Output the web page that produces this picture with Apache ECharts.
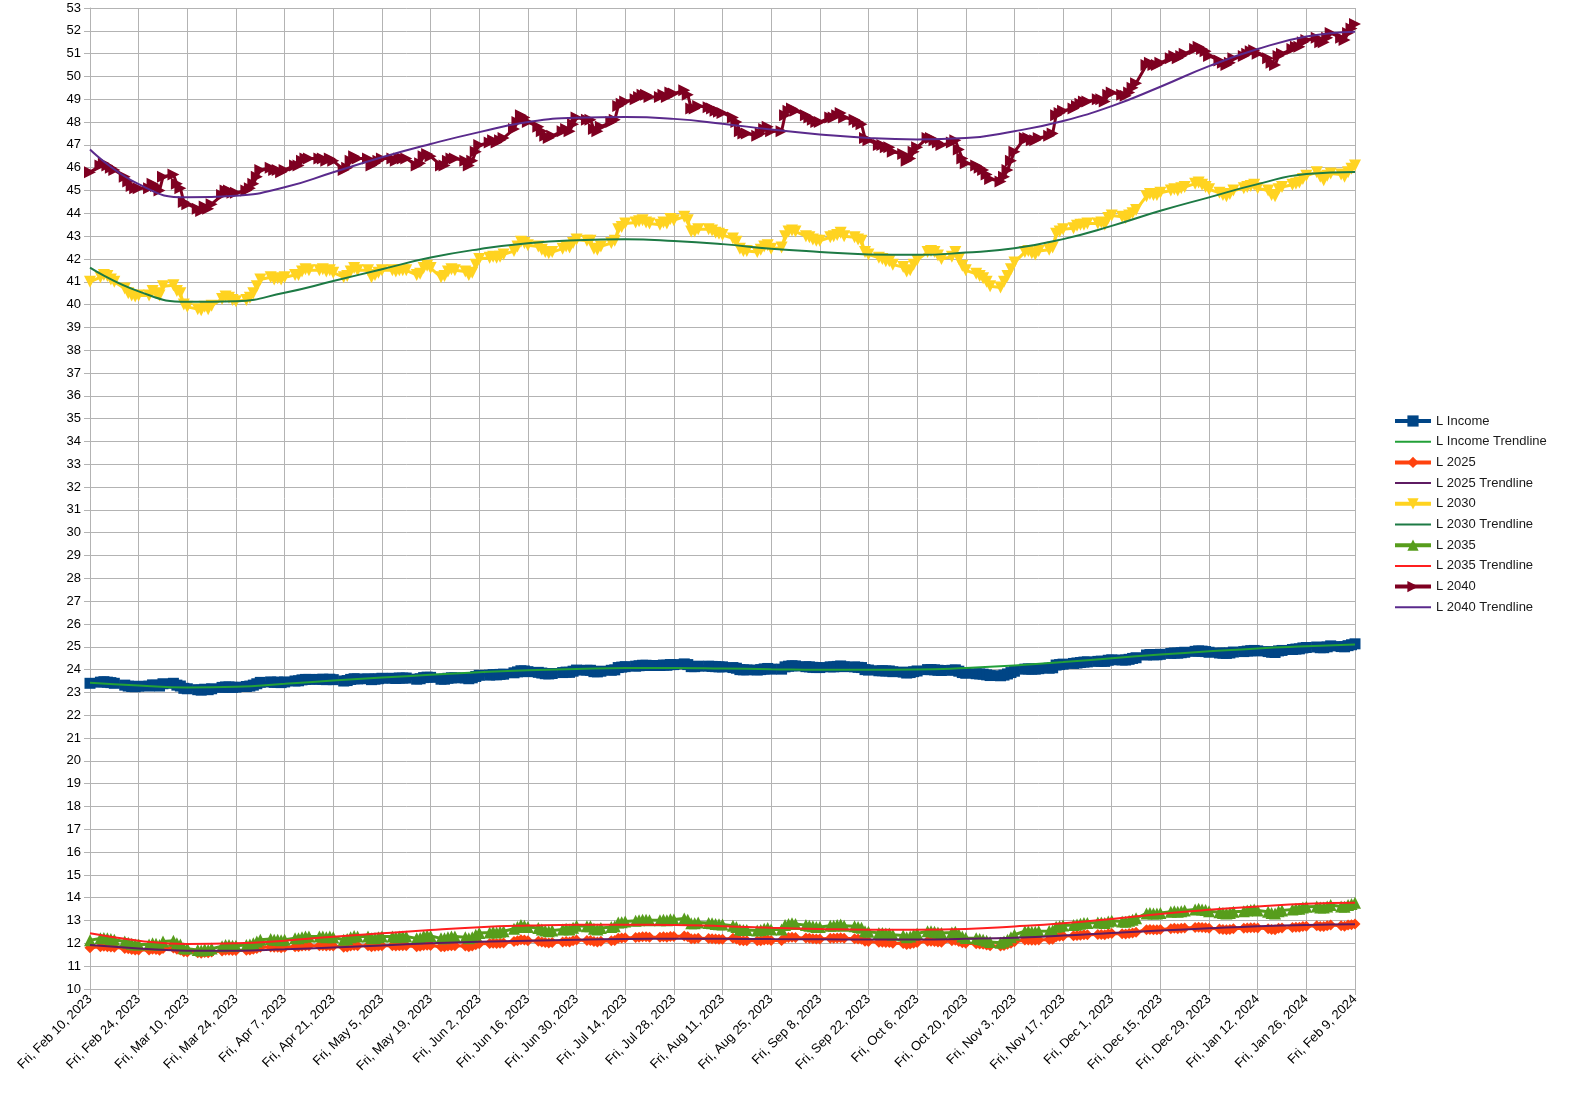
<!DOCTYPE html>
<html>
<head>
<meta charset="utf-8">
<title>L Funds</title>
<script src="https://cdn.jsdelivr.net/npm/echarts@6/dist/echarts.min.js"></script>
<style>
  html, body { margin: 0; padding: 0; background: #fff; }
  #chartMain { width: 1572px; height: 1093px; }
</style>
</head>
<body>
<div id="chartMain"></div>
<script>
// first day shown and how many calendar days the axis spans
var startDay = Date.UTC(2023, 1, 10);
var dayCount = 365;
var dayNames = ["Sun", "Mon", "Tue", "Wed", "Thu", "Fri", "Sat"];
var monthNames = ["Jan", "Feb", "Mar", "Apr", "May", "Jun", "Jul", "Aug", "Sep", "Oct", "Nov", "Dec"];

// daily prices, weekdays only (Fri Feb 10, then Mon..Fri rows)
var lIncome = [
  23.40,
  23.45, 23.47, 23.45, 23.43, 23.40,  23.32, 23.28, 23.26, 23.25, 23.27,
  23.28, 23.33, 23.31, 23.28, 23.38,  23.40, 23.32, 23.28, 23.18, 23.16,
  23.12, 23.10, 23.14, 23.12, 23.16,  23.22, 23.24, 23.24, 23.22, 23.23,
  23.26, 23.28, 23.32, 23.38, 23.44,  23.46, 23.44, 23.45, 23.43, 23.46,
  23.50, 23.51, 23.55, 23.57, 23.57,  23.57, 23.58, 23.56, 23.58, 23.56,
  23.50, 23.52, 23.57, 23.60, 23.59,  23.60, 23.56, 23.58, 23.60, 23.62,
  23.62, 23.61, 23.63, 23.63, 23.63,  23.58, 23.60, 23.65, 23.67, 23.66,
  23.58, 23.58, 23.62, 23.64, 23.64,  23.63, 23.60, 23.64, 23.70, 23.75,
  23.76, 23.78, 23.77, 23.79, 23.80,  23.86, 23.90, 23.95, 23.94, 23.91,
  23.88, 23.85, 23.82, 23.81, 23.83,  23.87, 23.89, 23.88, 23.93, 23.98,
  23.97, 23.97, 23.91, 23.90, 23.93,  23.97, 23.99, 24.09, 24.11, 24.13,
  24.15, 24.17, 24.19, 24.19, 24.18,  24.18, 24.20, 24.19, 24.22, 24.22,
  24.25, 24.22, 24.13, 24.13, 24.15,  24.15, 24.14, 24.13, 24.12, 24.12,
  24.09, 24.06, 24.00, 23.99, 23.99,  23.98, 24.00, 24.03, 24.05, 24.02,
  24.02, 24.12, 24.15, 24.17, 24.16,  24.13, 24.12, 24.10, 24.09, 24.09,
  24.12, 24.12, 24.14, 24.16, 24.13,  24.12, 24.10, 24.09, 24.00, 23.98,
  23.95, 23.95, 23.94, 23.94, 23.91,  23.89, 23.85, 23.87, 23.91, 23.94,
  24.00, 24.00, 23.99, 23.97, 23.96,  23.97, 23.99, 23.93, 23.87, 23.84,
  23.82, 23.81, 23.80, 23.77, 23.74,  23.73, 23.76, 23.81, 23.87, 23.93,
  24.02, 24.03, 24.02, 24.02, 24.04,  24.06, 24.08, 24.20, 24.22, 24.24,
  24.27, 24.29, 24.31, 24.33, 24.34,  24.36, 24.37, 24.36, 24.41, 24.43,
  24.42, 24.42, 24.45, 24.49, 24.52,  24.64, 24.66, 24.65, 24.65, 24.67,
  24.71, 24.73, 24.72, 24.74, 24.76,  24.80, 24.82, 24.81, 24.79, 24.76,
  24.73, 24.72, 24.71, 24.73, 24.77,  24.79, 24.81, 24.83, 24.84, 24.82,
  24.79, 24.76, 24.75, 24.82, 24.84,  24.88, 24.90, 24.91, 24.95, 24.97,
  24.99, 24.96, 24.96, 25.00, 25.04,  25.01, 25.00, 25.05, 25.09, 25.13
];

var l2025 = [
  11.81,
  11.85, 11.87, 11.85, 11.84, 11.83,  11.78, 11.76, 11.73, 11.71, 11.71,
  11.71, 11.74, 11.73, 11.70, 11.78,  11.80, 11.74, 11.71, 11.63, 11.62,
  11.59, 11.57, 11.60, 11.59, 11.62,  11.67, 11.70, 11.70, 11.69, 11.69,
  11.70, 11.71, 11.74, 11.78, 11.83,  11.84, 11.83, 11.83, 11.81, 11.83,
  11.85, 11.85, 11.88, 11.90, 11.90,  11.90, 11.90, 11.88, 11.90, 11.88,
  11.83, 11.84, 11.88, 11.91, 11.90,  11.90, 11.85, 11.87, 11.88, 11.90,
  11.90, 11.88, 11.90, 11.90, 11.90,  11.85, 11.87, 11.91, 11.92, 11.91,
  11.85, 11.85, 11.88, 11.90, 11.90,  11.88, 11.85, 11.88, 11.94, 11.98,
  11.99, 12.01, 11.99, 12.01, 12.02,  12.08, 12.12, 12.16, 12.15, 12.12,
  12.09, 12.06, 12.04, 12.02, 12.04,  12.06, 12.08, 12.06, 12.11, 12.15,
  12.13, 12.13, 12.08, 12.06, 12.09,  12.12, 12.13, 12.22, 12.23, 12.25,
  12.26, 12.27, 12.29, 12.29, 12.27,  12.27, 12.29, 12.27, 12.30, 12.30,
  12.32, 12.29, 12.20, 12.20, 12.22,  12.21, 12.20, 12.19, 12.18, 12.18,
  12.22, 12.19, 12.13, 12.12, 12.12,  12.11, 12.12, 12.15, 12.16, 12.13,
  12.13, 12.23, 12.26, 12.27, 12.26,  12.23, 12.22, 12.20, 12.19, 12.19,
  12.22, 12.22, 12.23, 12.25, 12.22,  12.20, 12.19, 12.18, 12.09, 12.08,
  12.05, 12.05, 12.04, 12.04, 12.01,  11.99, 11.95, 11.97, 12.01, 12.04,
  12.09, 12.09, 12.08, 12.06, 12.05,  12.12, 12.14, 12.08, 12.03, 12.00,
  11.98, 11.97, 11.96, 11.93, 11.90,  11.89, 11.91, 11.96, 12.01, 12.07,
  12.15, 12.15, 12.14, 12.14, 12.15,  12.17, 12.18, 12.29, 12.31, 12.32,
  12.33, 12.35, 12.36, 12.38, 12.38,  12.39, 12.39, 12.38, 12.42, 12.43,
  12.42, 12.41, 12.43, 12.46, 12.49,  12.60, 12.61, 12.60, 12.60, 12.61,
  12.64, 12.66, 12.64, 12.66, 12.67,  12.70, 12.71, 12.70, 12.68, 12.66,
  12.63, 12.61, 12.60, 12.61, 12.64,  12.66, 12.67, 12.68, 12.69, 12.67,
  12.64, 12.61, 12.60, 12.66, 12.67,  12.70, 12.71, 12.71, 12.74, 12.75,
  12.77, 12.74, 12.74, 12.77, 12.80,  12.77, 12.75, 12.80, 12.82, 12.85
];

var l2030 = [
  41.00,
  41.20, 41.30, 41.25, 41.10, 41.00,  40.70, 40.50, 40.40, 40.35, 40.40,
  40.40, 40.60, 40.50, 40.40, 40.80,  40.85, 40.60, 40.50, 40.00, 39.90,
  39.80, 39.75, 39.90, 39.80, 39.95,  40.25, 40.35, 40.30, 40.20, 40.15,
  40.20, 40.30, 40.50, 40.80, 41.10,  41.20, 41.10, 41.15, 41.10, 41.20,
  41.30, 41.30, 41.45, 41.55, 41.50,  41.50, 41.55, 41.45, 41.50, 41.40,
  41.20, 41.25, 41.45, 41.60, 41.50,  41.50, 41.20, 41.30, 41.40, 41.50,
  41.50, 41.45, 41.50, 41.50, 41.50,  41.30, 41.35, 41.60, 41.70, 41.60,
  41.20, 41.25, 41.45, 41.55, 41.50,  41.45, 41.30, 41.40, 41.75, 42.00,
  42.05, 42.10, 42.05, 42.10, 42.20,  42.35, 42.55, 42.75, 42.70, 42.60,
  42.55, 42.40, 42.30, 42.25, 42.30,  42.45, 42.55, 42.50, 42.70, 42.85,
  42.80, 42.80, 42.45, 42.40, 42.55,  42.70, 42.80, 43.30, 43.40, 43.55,
  43.60, 43.65, 43.70, 43.60, 43.55,  43.50, 43.60, 43.55, 43.75, 43.70,
  43.85, 43.70, 43.20, 43.20, 43.30,  43.30, 43.25, 43.15, 43.10, 43.05,
  42.90, 42.75, 42.45, 42.35, 42.35,  42.30, 42.40, 42.55, 42.60, 42.45,
  42.50, 43.00, 43.20, 43.25, 43.20,  43.00, 42.95, 42.85, 42.80, 42.80,
  42.95, 43.00, 43.05, 43.15, 43.00,  42.95, 42.85, 42.80, 42.30, 42.20,
  42.05, 42.00, 41.90, 41.90, 41.75,  41.65, 41.45, 41.50, 41.75, 41.95,
  42.30, 42.35, 42.30, 42.15, 42.00,  42.10, 42.30, 42.00, 41.70, 41.50,
  41.35, 41.25, 41.15, 41.00, 40.80,  40.75, 41.00, 41.25, 41.55, 41.85,
  42.30, 42.35, 42.25, 42.20, 42.35,  42.40, 42.50, 43.10, 43.20, 43.30,
  43.35, 43.45, 43.50, 43.50, 43.55,  43.55, 43.60, 43.50, 43.80, 43.90,
  43.85, 43.80, 43.90, 44.00, 44.15,  44.75, 44.85, 44.80, 44.80, 44.90,
  45.00, 45.05, 45.00, 45.10, 45.15,  45.30, 45.35, 45.25, 45.15, 45.05,
  44.90, 44.80, 44.75, 44.85, 45.00,  45.10, 45.15, 45.20, 45.25, 45.10,
  45.00, 44.80, 44.75, 45.05, 45.15,  45.25, 45.30, 45.35, 45.50, 45.65,
  45.80, 45.60, 45.45, 45.65, 45.75,  45.70, 45.60, 45.80, 45.95, 46.10
];

var l2035 = [
  12.14,
  12.22, 12.24, 12.22, 12.19, 12.16,  12.08, 12.03, 11.98, 11.95, 11.95,
  11.95, 12.00, 11.98, 11.93, 12.08,  12.11, 12.00, 11.95, 11.79, 11.77,
  11.71, 11.69, 11.74, 11.71, 11.77,  11.87, 11.93, 11.93, 11.90, 11.90,
  11.93, 11.95, 12.00, 12.08, 12.16,  12.19, 12.16, 12.16, 12.14, 12.16,
  12.22, 12.22, 12.27, 12.30, 12.30,  12.30, 12.30, 12.27, 12.30, 12.27,
  12.16, 12.19, 12.27, 12.32, 12.30,  12.30, 12.22, 12.24, 12.27, 12.30,
  12.30, 12.27, 12.30, 12.30, 12.30,  12.22, 12.24, 12.32, 12.35, 12.32,
  12.22, 12.22, 12.27, 12.30, 12.30,  12.27, 12.22, 12.27, 12.38, 12.46,
  12.48, 12.51, 12.48, 12.51, 12.53,  12.64, 12.72, 12.80, 12.77, 12.72,
  12.67, 12.61, 12.56, 12.53, 12.56,  12.61, 12.64, 12.61, 12.69, 12.77,
  12.75, 12.75, 12.64, 12.61, 12.67,  12.72, 12.75, 12.91, 12.93, 12.96,
  12.99, 13.01, 13.04, 13.04, 13.01,  13.01, 13.04, 13.01, 13.06, 13.05,
  13.09, 13.04, 12.88, 12.88, 12.91,  12.89, 12.88, 12.85, 12.84, 12.83,
  12.77, 12.72, 12.61, 12.59, 12.59,  12.56, 12.59, 12.64, 12.67, 12.61,
  12.61, 12.80, 12.85, 12.88, 12.85,  12.80, 12.77, 12.75, 12.72, 12.72,
  12.77, 12.77, 12.80, 12.83, 12.77,  12.75, 12.72, 12.69, 12.53, 12.51,
  12.46, 12.46, 12.43, 12.43, 12.38,  12.35, 12.27, 12.30, 12.38, 12.43,
  12.53, 12.53, 12.51, 12.48, 12.46,  12.48, 12.51, 12.40, 12.30, 12.24,
  12.22, 12.19, 12.16, 12.11, 12.06,  12.03, 12.08, 12.16, 12.27, 12.38,
  12.53, 12.53, 12.51, 12.51, 12.53,  12.54, 12.56, 12.73, 12.75, 12.78,
  12.81, 12.83, 12.86, 12.89, 12.89,  12.91, 12.91, 12.89, 12.96, 12.99,
  12.96, 12.95, 12.99, 13.04, 13.10,  13.31, 13.33, 13.31, 13.31, 13.33,
  13.39, 13.41, 13.39, 13.41, 13.44,  13.49, 13.52, 13.49, 13.46, 13.41,
  13.36, 13.33, 13.31, 13.33, 13.39,  13.41, 13.44, 13.46, 13.48, 13.44,
  13.39, 13.33, 13.31, 13.41, 13.44,  13.49, 13.52, 13.52, 13.57, 13.60,
  13.62, 13.57, 13.57, 13.62, 13.68,  13.62, 13.60, 13.68, 13.73, 13.78
];

var l2040 = [
  45.80,
  46.10, 46.20, 46.10, 46.00, 45.90,  45.60, 45.40, 45.20, 45.10, 45.10,
  45.10, 45.30, 45.20, 45.00, 45.60,  45.70, 45.30, 45.10, 44.50, 44.40,
  44.20, 44.10, 44.30, 44.20, 44.40,  44.80, 45.00, 45.00, 44.90, 44.90,
  45.00, 45.10, 45.30, 45.60, 45.90,  46.00, 45.90, 45.90, 45.80, 45.90,
  46.10, 46.10, 46.30, 46.40, 46.40,  46.40, 46.40, 46.30, 46.40, 46.30,
  45.90, 46.00, 46.30, 46.50, 46.40,  46.40, 46.10, 46.20, 46.30, 46.40,
  46.40, 46.30, 46.40, 46.40, 46.40,  46.10, 46.20, 46.50, 46.60, 46.50,
  46.10, 46.10, 46.30, 46.40, 46.40,  46.30, 46.10, 46.30, 46.70, 47.00,
  47.10, 47.20, 47.10, 47.20, 47.30,  47.70, 48.00, 48.30, 48.20, 48.00,
  47.80, 47.60, 47.40, 47.30, 47.40,  47.60, 47.70, 47.60, 47.90, 48.20,
  48.10, 48.10, 47.70, 47.60, 47.80,  48.00, 48.10, 48.70, 48.80, 48.90,
  49.00, 49.10, 49.20, 49.20, 49.10,  49.10, 49.20, 49.10, 49.30, 49.25,
  49.40, 49.20, 48.60, 48.60, 48.70,  48.65, 48.60, 48.50, 48.45, 48.40,
  48.20, 48.00, 47.60, 47.50, 47.50,  47.40, 47.50, 47.70, 47.80, 47.60,
  47.60, 48.30, 48.50, 48.60, 48.50,  48.30, 48.20, 48.10, 48.00, 48.00,
  48.20, 48.20, 48.30, 48.40, 48.20,  48.10, 48.00, 47.90, 47.30, 47.20,
  47.00, 47.00, 46.90, 46.90, 46.70,  46.60, 46.30, 46.40, 46.70, 46.90,
  47.30, 47.30, 47.20, 47.10, 47.00,  47.10, 47.20, 46.80, 46.40, 46.20,
  46.10, 46.00, 45.90, 45.70, 45.50,  45.40, 45.60, 45.90, 46.30, 46.70,
  47.30, 47.30, 47.20, 47.20, 47.30,  47.40, 47.50, 48.30, 48.40, 48.50,
  48.60, 48.70, 48.80, 48.90, 48.90,  49.00, 49.00, 48.90, 49.20, 49.30,
  49.20, 49.15, 49.30, 49.50, 49.70,  50.50, 50.60, 50.50, 50.50, 50.60,
  50.80, 50.90, 50.80, 50.90, 51.00,  51.20, 51.30, 51.20, 51.10, 50.90,
  50.70, 50.60, 50.50, 50.60, 50.80,  50.90, 51.00, 51.10, 51.15, 51.00,
  50.80, 50.60, 50.50, 50.90, 51.00,  51.20, 51.30, 51.30, 51.50, 51.60,
  51.70, 51.50, 51.50, 51.70, 51.90,  51.70, 51.60, 51.90, 52.10, 52.30
];

// trendline values every second Friday (Feb 10, Feb 24, ... Feb 9)
var trendIncome = [23.42, 23.30, 23.22, 23.25, 23.38, 23.52, 23.65, 23.77, 23.88, 23.97, 24.03, 24.07, 24.07, 24.05,
  24.02, 23.99, 23.99, 24.00, 24.07, 24.18, 24.33, 24.50, 24.66, 24.80, 24.93, 25.02, 25.10];
var trend2025 = [11.93, 11.78, 11.68, 11.68, 11.74, 11.82, 11.91, 12.00, 12.07, 12.12, 12.16, 12.19, 12.20, 12.20,
  12.19, 12.18, 12.17, 12.17, 12.20, 12.25, 12.34, 12.46, 12.56, 12.66, 12.75, 12.81, 12.84];
var trend2030 = [41.62, 40.58, 40.12, 40.15, 40.52, 41.03, 41.55, 42.06, 42.43, 42.69, 42.82, 42.86, 42.79, 42.65,
  42.45, 42.31, 42.20, 42.18, 42.28, 42.47, 42.87, 43.45, 44.11, 44.70, 45.28, 45.72, 45.81];
var trend2035 = [12.44, 12.12, 11.97, 12.00, 12.12, 12.29, 12.44, 12.59, 12.71, 12.78, 12.82, 12.82, 12.81, 12.75,
  12.68, 12.63, 12.60, 12.60, 12.63, 12.74, 12.88, 13.07, 13.29, 13.47, 13.62, 13.74, 13.78];
var trend2040 = [46.80, 45.28, 44.70, 44.77, 45.14, 45.80, 46.46, 47.04, 47.56, 48.00, 48.19, 48.22, 48.14, 47.93,
  47.67, 47.46, 47.30, 47.24, 47.30, 47.60, 48.05, 48.70, 49.55, 50.45, 51.20, 51.75, 51.96];

var dates = [];
var weekdays = [];
for (var i = 0; i < dayCount; i++) {
  var d = new Date(startDay + i * 86400000);
  var wd = d.getUTCDay();
  dates.push(dayNames[wd] + ", " + monthNames[d.getUTCMonth()] + " " + d.getUTCDate() + ", " + d.getUTCFullYear());
  if (wd !== 0 && wd !== 6) weekdays.push(i);
}

function daily(values) {
  return values.map(function (v, k) { return [weekdays[k], v]; });
}
function biweekly(values) {
  return values.map(function (v, k) { return [k * 14, v]; });
}

function dataSeries(name, values, color, symbol, size, rotate) {
  return {
    name: name,
    type: "line",
    data: daily(values),
    symbol: symbol,
    symbolSize: size,
    symbolRotate: rotate,
    showAllSymbol: true,
    lineStyle: { color: color, width: 3 },
    itemStyle: { color: color },
    z: 2,
  };
}
function trendSeries(name, values, color) {
  return {
    name: name,
    type: "line",
    data: biweekly(values),
    smooth: 0.5,
    symbol: "none",
    lineStyle: { color: color, width: 2 },
    itemStyle: { color: color },
    z: 4,
  };
}

// legend entries: data series keep line + marker, trendlines get a plain line
var trendIcon = "path://M0,0H36V2H0Z";
function dataKey(name) {
  return { name: name, lineStyle: { width: 4 } };
}
function trendKey(name) {
  return { name: name, icon: trendIcon };
}

var myChart = echarts.init(document.getElementById("chartMain"));
myChart.setOption({
  animation: false,
  backgroundColor: "#fff",
  textStyle: { fontFamily: "Liberation Sans, Arial, sans-serif" },
  grid: { left: 90, right: 217, top: 8, bottom: 104, containLabel: false },
  legend: {
    orient: "vertical",
    left: 1393,
    top: 414,
    padding: 0,
    itemWidth: 36,
    itemHeight: 14,
    itemGap: 6.7,
    textStyle: { fontSize: 13, color: "#1a1a1a", lineHeight: 14 },
    data: [
      dataKey("L Income"), trendKey("L Income Trendline"),
      dataKey("L 2025"), trendKey("L 2025 Trendline"),
      dataKey("L 2030"), trendKey("L 2030 Trendline"),
      dataKey("L 2035"), trendKey("L 2035 Trendline"),
      dataKey("L 2040"), trendKey("L 2040 Trendline"),
    ],
  },
  xAxis: {
    type: "category",
    data: dates,
    boundaryGap: false,
    axisLine: { lineStyle: { color: "#b3b3b3" } },
    axisTick: { show: true, interval: 13, length: 6, lineStyle: { color: "#b3b3b3" } },
    axisLabel: { interval: 13, rotate: 45, fontSize: 13, color: "#000", margin: 8 },
    splitLine: { show: true, interval: 13, lineStyle: { color: "#b3b3b3", width: 1 } },
  },
  yAxis: {
    type: "value",
    min: 10,
    max: 53,
    interval: 1,
    axisLine: { show: true, lineStyle: { color: "#b3b3b3" } },
    axisTick: { show: true, length: 6, lineStyle: { color: "#b3b3b3" } },
    axisLabel: { fontSize: 13, color: "#000", margin: 9 },
    splitLine: { lineStyle: { color: "#b3b3b3", width: 1 } },
  },
  series: [
    dataSeries("L Income", lIncome, "#004586", "rect", 11, 0),
    trendSeries("L Income Trendline", trendIncome, "#22a038"),
    dataSeries("L 2025", l2025, "#ff420e", "diamond", 11, 0),
    trendSeries("L 2025 Trendline", trend2025, "#5e1b62"),
    dataSeries("L 2030", l2030, "#ffd320", "triangle", 12, 180),
    trendSeries("L 2030 Trendline", trend2030, "#1d7a45"),
    dataSeries("L 2035", l2035, "#579d1c", "triangle", 12, 0),
    trendSeries("L 2035 Trendline", trend2035, "#ff1f1f"),
    dataSeries("L 2040", l2040, "#7e0021", "triangle", 12, -90),
    trendSeries("L 2040 Trendline", trend2040, "#5a2a8c"),
  ],
});
</script>
</body>
</html>
